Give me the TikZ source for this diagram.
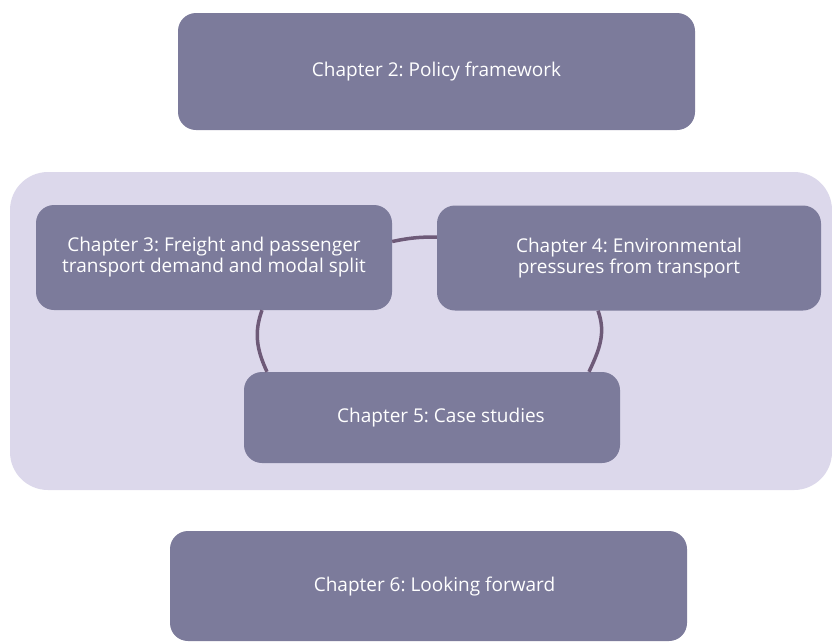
\documentclass[tikz,border=0pt]{standalone}
\usepackage{fontspec}
\setmainfont{Open Sans}
\frenchspacing
\usetikzlibrary{positioning}
\definecolor{chapfill}{HTML}{7C7B9B}
\definecolor{groupfill}{HTML}{DCD8EB}
\definecolor{linkcol}{HTML}{6E5A78}
\begin{document}
\begin{tikzpicture}[x=1pt, y=-1pt,
    chapbox/.style={fill=chapfill, rounded corners=18pt, text=white, align=center,
      inner sep=0pt, font=\fontsize{19}{21}\selectfont},
    chaplink/.style={draw=linkcol, line width=3.5pt}]
    \useasboundingbox (0,0) rectangle (832,641);
    % group of chapters 3 to 5
    \fill[groupfill, rounded corners=38pt] (10,172) rectangle (832,490);
    \node[chapbox, minimum width=517pt, minimum height=117pt] (ch2) at (436.5,71.5) {Chapter 2: Policy framework};
    \node[chapbox, minimum width=356pt, minimum height=105pt] (ch3) at (214,257.5) {Chapter 3: Freight and passenger\\transport demand and modal split};
    \node[chapbox, minimum width=384pt, minimum height=105pt] (ch4) at (629,258) {Chapter 4: Environmental\\pressures from transport};
    \node[chapbox, minimum width=376pt, minimum height=91pt] (ch5) at (432,417.5) {\hspace*{18pt}Chapter 5: Case studies};
    \node[chapbox, minimum width=517pt, minimum height=110pt] (ch6) at (428.5,586) {\hspace*{12pt}Chapter 6: Looking forward};
    % links
    \draw[chaplink] ([yshift=16pt]ch3.east) to[bend left=6] ([yshift=21pt]ch4.west);
    \draw[chaplink] ([xshift=48pt]ch3.south) to[out=250, in=115] ([xshift=-165pt]ch5.north);
    \draw[chaplink] ([xshift=-31pt]ch4.south) to[out=290, in=65] ([xshift=157pt]ch5.north);
\end{tikzpicture}
\end{document}
